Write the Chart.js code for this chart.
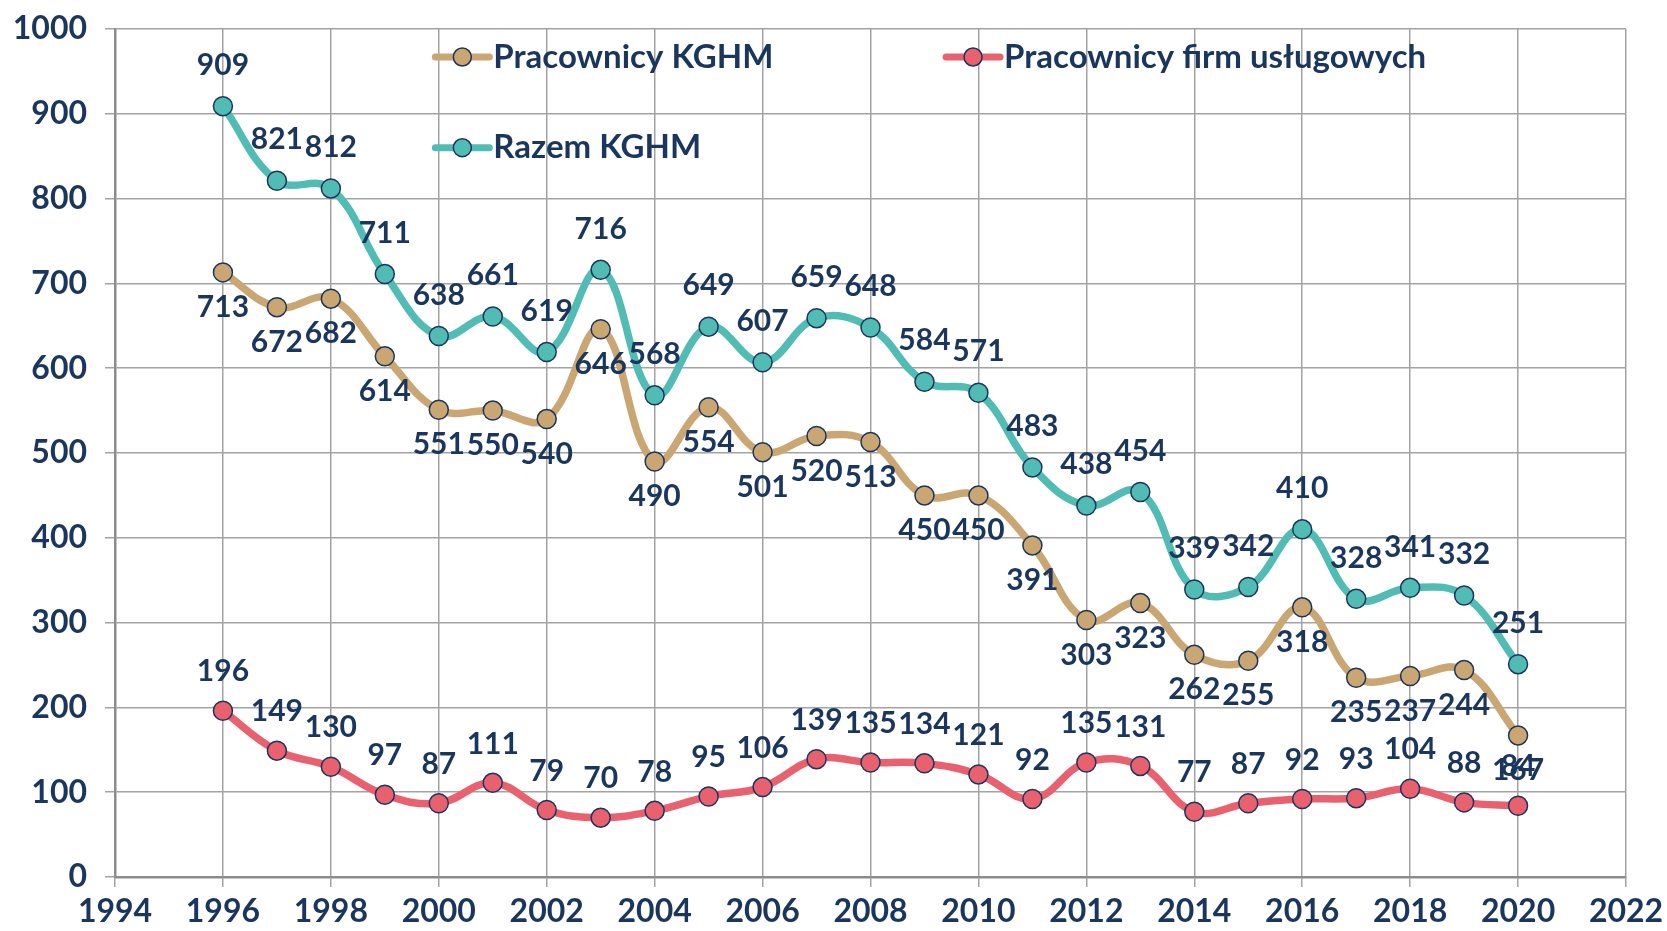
<!DOCTYPE html>
<html>
<head>
<meta charset="utf-8">
<script src="https://cdn.jsdelivr.net/npm/chart.js@4.4.1/dist/chart.umd.min.js"></script>
<style>
  html, body { margin: 0; padding: 0; background: #fff; }
  #wrap { width: 1667px; height: 931px; }
</style>
</head>
<body>
<div id="wrap"><canvas id="chart" width="1667" height="931"></canvas></div>
<script>
// data
var years = [1996, 1997, 1998, 1999, 2000, 2001, 2002, 2003, 2004, 2005, 2006, 2007, 2008,
             2009, 2010, 2011, 2012, 2013, 2014, 2015, 2016, 2017, 2018, 2019, 2020];
var pracownicyKghm = [713, 672, 682, 614, 551, 550, 540, 646, 490, 554, 501, 520, 513,
                      450, 450, 391, 303, 323, 262, 255, 318, 235, 237, 244, 167];
var pracownicyFirm = [196, 149, 130, 97, 87, 111, 79, 70, 78, 95, 106, 139, 135,
                      134, 121, 92, 135, 131, 77, 87, 92, 93, 104, 88, 84];
var razemKghm = [909, 821, 812, 711, 638, 661, 619, 716, 568, 649, 607, 659, 648,
                 584, 571, 483, 438, 454, 339, 342, 410, 328, 341, 332, 251];
var seriesNames = ['Pracownicy KGHM', 'Pracownicy firm usługowych', 'Razem KGHM'];
var xRange = [1994, 2022];
var yRange = [0, 1000];

var navy = '#1a365d';
var fontFamily = 'Lato, "Open Sans", sans-serif';

function toPoints(values) {
  return values.map(function (v, i) { return { x: years[i], y: v }; });
}

function series(label, values, color, labelOffset) {
  return {
    label: label,
    data: toPoints(values),
    borderColor: color,
    backgroundColor: color,
    borderWidth: 7.5,
    tension: 0.4,
    pointRadius: 9.5,
    pointBackgroundColor: color,
    pointBorderColor: navy,
    pointBorderWidth: 1.5,
    labelOffset: labelOffset
  };
}

// value labels above / below each point
var valueLabels = {
  id: 'valueLabels',
  afterDatasetsDraw: function (chart) {
    var ctx = chart.ctx;
    ctx.save();
    ctx.font = '700 30px ' + fontFamily;
    ctx.fillStyle = navy;
    ctx.textAlign = 'center';
    ctx.textBaseline = 'middle';
    chart.data.datasets.forEach(function (ds, i) {
      var meta = chart.getDatasetMeta(i);
      meta.data.forEach(function (pt, j) {
        ctx.fillText(String(ds.data[j].y), pt.x, pt.y + ds.labelOffset);
      });
    });
    ctx.restore();
  }
};

// legend drawn inside the plot area, two per row like the original
var insideLegend = {
  id: 'insideLegend',
  afterDraw: function (chart) {
    var area = chart.chartArea;
    var ctx = chart.ctx;
    var slots = [[0.212, 0.033], [0.55, 0.033], [0.212, 0.14]];
    ctx.save();
    ctx.font = '700 33px ' + fontFamily;
    ctx.textBaseline = 'middle';
    chart.data.datasets.forEach(function (ds, i) {
      var x = area.left + slots[i][0] * area.width;
      var y = area.top + slots[i][1] * area.height;
      ctx.strokeStyle = ds.borderColor;
      ctx.lineWidth = 7;
      ctx.lineCap = 'round';
      ctx.beginPath();
      ctx.moveTo(x, y);
      ctx.lineTo(x + 54, y);
      ctx.stroke();
      ctx.beginPath();
      ctx.arc(x + 27, y, 9, 0, Math.PI * 2);
      ctx.fillStyle = ds.borderColor;
      ctx.fill();
      ctx.lineWidth = 1.5;
      ctx.strokeStyle = navy;
      ctx.stroke();
      ctx.fillStyle = navy;
      ctx.fillText(ds.label, x + 58, y);
    });
    ctx.restore();
  }
};

var chart = new Chart(document.getElementById('chart'), {
  type: 'line',
  data: {
    datasets: [
      series(seriesNames[0], pracownicyKghm, '#caa673', 35),
      series(seriesNames[1], pracownicyFirm, '#e9616f', -39),
      series(seriesNames[2], razemKghm, '#50bcb4', -41)
    ]
  },
  options: {
    responsive: false,
    animation: false,
    devicePixelRatio: 1,
    layout: { padding: { left: 5, top: 29, right: 41, bottom: 4 } },
    plugins: {
      legend: { display: false },
      tooltip: { enabled: false }
    },
    scales: {
      x: {
        type: 'linear',
        min: xRange[0],
        max: xRange[1],
        afterFit: function (s) { s.height = 50; s.paddingRight = 0; s.paddingLeft = 0; },
        grid: { color: '#a3a3a3', lineWidth: 1.5, tickLength: 10, tickColor: '#a3a3a3' },
        border: { color: '#8c8c8c', width: 2.5 },
        ticks: {
          stepSize: 2,
          padding: 5,
          color: navy,
          font: { family: fontFamily, size: 32, weight: '700' },
          callback: function (v) { return String(v); }
        }
      },
      y: {
        min: yRange[0],
        max: yRange[1],
        afterFit: function (s) { s.width = 110; s.paddingTop = 0; s.paddingBottom = 0; },
        grid: { color: '#a3a3a3', lineWidth: 1.5, tickLength: 10, tickColor: '#a3a3a3' },
        border: { color: '#8c8c8c', width: 2.5 },
        ticks: {
          stepSize: 100,
          padding: 18,
          color: navy,
          font: { family: fontFamily, size: 32, weight: '700' },
          callback: function (v) { return String(v); }
        }
      }
    }
  },
  plugins: [valueLabels, insideLegend]
});
</script>
</body>
</html>
